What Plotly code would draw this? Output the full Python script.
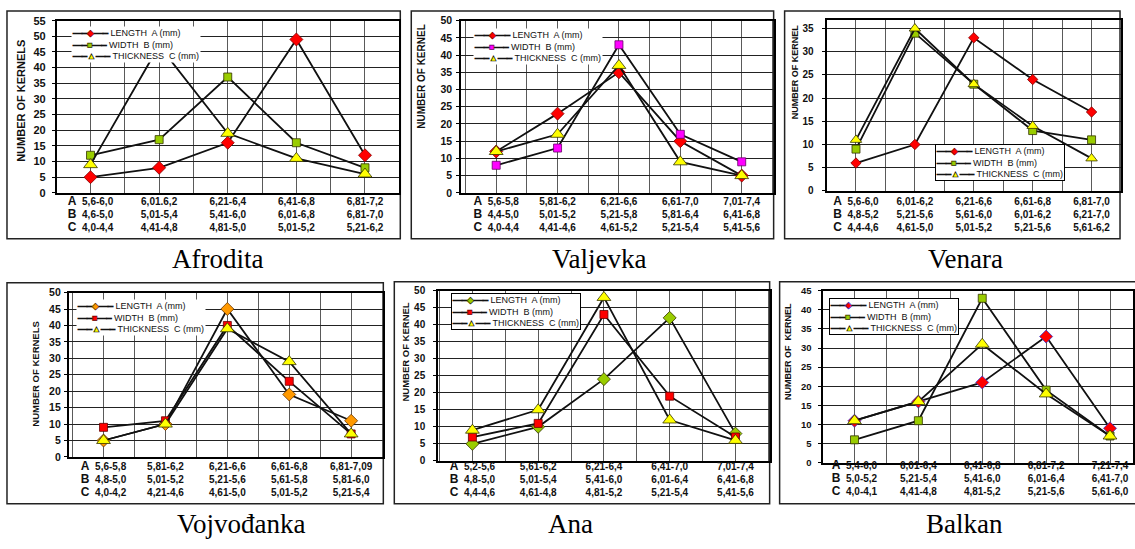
import plotly.graph_objects as go

W, H = 1135, 549

# ---------------- data ----------------
class_index = [0, 1, 2, 3, 4]
series_names = ["LENGTH  A (mm)", "WIDTH  B (mm)", "THICKNESS  C (mm)"]
row_letters = ["A", "B", "C"]
panel_titles = ["Afrodita", "Valjevka", "Venara", "Vojvođanka", "Ana", "Balkan"]

afrodita_length = [5, 8, 16, 49, 12]
afrodita_width = [12, 17, 37, 16, 8]
afrodita_thickness = [9, 47, 19, 11, 6]
afrodita_A = ["5,6-6,0", "6,01.6,2", "6,21-6,4", "6,41-6,8", "6,81-7,2"]
afrodita_B = ["4,6-5,0", "5,01-5,4", "5,41-6,0", "6,01-6,8", "6,81-7,0"]
afrodita_C = ["4,0-4,4", "4,41-4,8", "4,81-5,0", "5,01-5,2", "5,21-6,2"]

valjevka_length = [12, 23, 35, 15, 5]
valjevka_width = [8, 13, 43, 17, 9]
valjevka_thickness = [12, 17, 37, 9, 5]
valjevka_A = ["5,6-5,8", "5,81-6,2", "6,21-6,6", "6,61-7,0", "7,01-7,4"]
valjevka_B = ["4,4-5,0", "5,01-5,2", "5,21-5,8", "5,81-6,4", "6,41-6,8"]
valjevka_C = ["4,0-4,4", "4,41-4,6", "4,61-5,2", "5,21-5,4", "5,41-5,6"]

venara_length = [6, 10, 33, 24, 17]
venara_width = [9, 34, 23, 13, 11]
venara_thickness = [11, 35, 23, 14, 7]
venara_A = ["5,6-6,0", "6,01-6,2", "6,21-6,6", "6,61-6,8", "6,81-7,0"]
venara_B = ["4,8-5,2", "5,21-5,6", "5,61-6,0", "6,01-6,2", "6,21-7,0"]
venara_C = ["4,4-4,6", "4,61-5,0", "5,01-5,2", "5,21-5,6", "5,61-6,2"]

vojvodjanka_length = [5, 10, 45, 19, 11]
vojvodjanka_width = [9, 11, 40, 23, 7]
vojvodjanka_thickness = [5, 10, 39, 29, 7]
vojvodjanka_A = ["5,6-5,8", "5,81-6,2", "6,21-6,6", "6,61-6,8", "6,81-7,09"]
vojvodjanka_B = ["4,8-5,0", "5,01-5,2", "5,21-5,6", "5,61-5,8", "5,81-6,0"]
vojvodjanka_C = ["4,0-4,2", "4,21-4,6", "4,61-5,0", "5,01-5,2", "5,21-5,4"]

ana_length = [5, 10, 24, 42, 8]
ana_width = [7, 11, 43, 19, 7]
ana_thickness = [9, 15, 48, 12, 6]
ana_A = ["5,2-5,6", "5,61-6,2", "6,21-6,4", "6,41-7,0", "7,01-7,4"]
ana_B = ["4,8-5,0", "5,01-5,4", "5,41-6,0", "6,01-6,4", "6,41-6,8"]
ana_C = ["4,4-4,6", "4,61-4,8", "4,81-5,2", "5,21-5,4", "5,41-5,6"]

balkan_length = [11, 16, 21, 33, 9]
balkan_width = [6, 11, 43, 19, 7]
balkan_thickness = [11, 16, 31, 18, 7]
balkan_A = ["5,4-6,0", "6,01-6,4", "6,41-6,8", "6,81-7,2", "7,21-7,4"]
balkan_B = ["5,0-5,2", "5,21-5,4", "5,41-6,0", "6,01-6,4", "6,41-7,0"]
balkan_C = ["4,0-4,1", "4,41-4,8", "4,81-5,2", "5,21-5,6", "5,61-6,0"]

y_titles = ["NUMBER OF KERNELS", "NUMBER OF KERNEL", "NUMBER OF KERNEL",
            "NUMBER OF KERNELS", "NUMBER OF KERNEL", "NUMBER OF  KERNEL"]

# ---------------- styling / layout ----------------
SANS = "Liberation Sans, Arial, sans-serif"
SERIF = "Liberation Serif, Times New Roman, serif"
GREEN = "#99CC00"
YELLOW = "#FFFF00"
RED = "#FF0000"

panels = [
    dict(L=afrodita_length, Wd=afrodita_width, T=afrodita_thickness,
         A=afrodita_A, B=afrodita_B, C=afrodita_C,
         px=(57, 400), py=(15, 191), xr=(-0.49, 4.5), ymax=55,
         frame=(7, 5, 401, 238), title=(218, 259),
         ytitle=(21, 97, 11), ylabpad=4, ytick=11, xpad=-2,
         lcol=(RED, "#800000", 10), wcol=(GREEN, "#333300", 8),
         legend=dict(x=71, y=20, anchor="top", border=False)),
    dict(L=valjevka_length, Wd=valjevka_width, T=valjevka_thickness,
         A=valjevka_A, B=valjevka_B, C=valjevka_C,
         px=(462, 775), py=(15, 191), xr=(-0.57, 4.52), ymax=50,
         frame=(412, 5, 775, 238), title=(600, 259),
         ytitle=(422, 72, 10), ylabpad=2, ytick=10.5, xpad=-2,
         lcol=(RED, "#800000", 10), wcol=("#FF00FF", "#660066", 8),
         legend=dict(x=474, y=23, anchor="top", border=False)),
    dict(L=venara_length, Wd=venara_width, T=venara_thickness,
         A=venara_A, B=venara_B, C=venara_C,
         px=(828, 1123), py=(14, 189), xr=(-0.5, 4.5), ymax=36.9,
         frame=(786, 5, 1122, 238), title=(967, 259),
         ytitle=(796, 67, 9), ylabpad=6, ytick=10, xpad=0,
         lcol=(RED, "#800000", 8), wcol=(GREEN, "#333300", 8),
         legend=dict(x=937, y=179, anchor="bottom", border=True)),
    dict(L=vojvodjanka_length, Wd=vojvodjanka_width, T=vojvodjanka_thickness,
         A=vojvodjanka_A, B=vojvodjanka_B, C=vojvodjanka_C,
         px=(69, 384), py=(293, 461), xr=(-0.56, 4.52), ymax=50,
         frame=(7, 283, 384, 509), title=(242, 530),
         ytitle=(36, 376, 9.5), ylabpad=1, ytick=10.5, xpad=-1,
         lcol=("#FF9900", "#663300", 10), wcol=(RED, "#660000", 8),
         legend=dict(x=76, y=300, anchor="top", border=False)),
    dict(L=ana_length, Wd=ana_width, T=ana_thickness,
         A=ana_A, B=ana_B, C=ana_C,
         px=(439, 771), py=(291, 465), xr=(-0.52, 4.52), ymax=50,
         frame=(395, 282, 771, 509), title=(572, 530),
         ytitle=(406, 354, 9.5), ylabpad=6, ytick=10, xpad=-5,
         lcol=(GREEN, "#333300", 10), wcol=(RED, "#660000", 8),
         legend=dict(x=452, y=293, anchor="top", border=True)),
    dict(L=balkan_length, Wd=balkan_width, T=balkan_thickness,
         A=balkan_A, B=balkan_B, C=balkan_C,
         px=(824, 1135), py=(291, 467), xr=(-0.5, 4.36), ymax=45,
         frame=(781, 282, 1140, 509), title=(966, 530),
         ytitle=(790, 353, 9), ylabpad=4, ytick=9.5, xpad=-8,
         lcol=(RED, "#3333CC", 10), wcol=(GREEN, "#333300", 8),
         legend=dict(x=830, y=299, anchor="top", border=True)),
]

fig = go.Figure()
shapes = []
annotations = []
layout_extra = {}

half_ticks = [i * 0.5 for i in range(-1, 10)]
NB = "\u00a0"


def legend_row(fill, outline, glyph, name):
    dash = '<span style="stroke:#111;stroke-width:1px">—–</span>'
    mark = (f'<span style="fill:{fill};stroke:{outline};stroke-width:0.7px">'
            f'{glyph}</span>')
    return f"{dash}{mark}{dash}{NB}{name}"


for i, p in enumerate(panels):
    k = i + 1
    xa = "x" if k == 1 else f"x{k}"
    ya = "y" if k == 1 else f"y{k}"
    lc, lo, ls = p["lcol"]
    wc, wo, ws = p["wcol"]
    specs = [
        (p["L"], series_names[0], "diamond", lc, lo, ls),
        (p["Wd"], series_names[1], "square", wc, wo, ws),
        (p["T"], series_names[2], "triangle-up", YELLOW, "#333300", ls + 2),
    ]
    for vals, name, sym, col, ocol, size in specs:
        fig.add_trace(go.Scatter(
            x=class_index, y=vals, name=name, mode="lines+markers",
            xaxis=xa, yaxis=ya, showlegend=False,
            line=dict(color="#111111", width=1.8),
            marker=dict(symbol=sym, color=col, size=size,
                        line=dict(color=ocol, width=0.8)),
            hoverinfo="x+y+name"))

    ticktext = []
    for v in half_ticks:
        if v == int(v) and 0 <= v <= 4:
            j = int(v)
            rows = [p["A"][j], p["B"][j], p["C"][j]]
            if j == 0:
                rows = [f'<span style="font-size:12px">{L}</span>{NB}{NB}{r}'
                        for L, r in zip(row_letters, rows)]
            ticktext.append("<br>".join(rows))
        else:
            ticktext.append("")

    x0, x1 = p["px"]
    yt, yb = p["py"]
    layout_extra[f"xaxis{'' if k == 1 else k}"] = dict(
        domain=[x0 / W, min(x1 / W, 1.0)], anchor=ya,
        range=list(p["xr"]), tickmode="array", tickvals=half_ticks,
        ticktext=ticktext, ticks="", showgrid=True, gridcolor="#5a5a5a",
        gridwidth=1, showline=True, linecolor="#000", linewidth=2,
        mirror=True, zeroline=False, ticklabelstandoff=p["xpad"],
        tickfont=dict(family=SANS, size=10, color="#111", weight="bold"))
    layout_extra[f"yaxis{'' if k == 1 else k}"] = dict(
        domain=[1 - yb / H, 1 - yt / H], anchor=xa,
        range=[0, p["ymax"]], dtick=5, tick0=0, ticks="outside",
        ticklen=3, tickcolor="#000", showgrid=True, gridcolor="#222",
        gridwidth=1, showline=True, linecolor="#000", linewidth=2,
        mirror=True, zeroline=False, ticklabelstandoff=p["ylabpad"],
        tickfont=dict(family=SANS, size=p["ytick"], color="#111", weight="bold"))

    # legend box (one per panel)
    lgd = p["legend"]
    leg_rows = [
        legend_row(lc, lo, "◆", series_names[0]),
        legend_row(wc, wo, "■", series_names[1]),
        legend_row(YELLOW, "#111", "▲", series_names[2]),
    ]
    annotations.append(dict(
        text="<br>".join(leg_rows), x=lgd["x"] / W, y=1 - lgd["y"] / H,
        xref="paper", yref="paper", showarrow=False, align="left",
        xanchor="left", yanchor=lgd["anchor"], bgcolor="#FFFFFF",
        bordercolor="#000" if lgd["border"] else "rgba(0,0,0,0)",
        borderwidth=1, borderpad=1,
        font=dict(family=SANS, size=9, color="#111")))

    fx0, fy0, fx1, fy1 = p["frame"]
    shapes.append(dict(type="rect", xref="paper", yref="paper",
                       x0=fx0 / W, x1=fx1 / W, y0=1 - fy1 / H, y1=1 - fy0 / H,
                       line=dict(color="#222", width=1.5), layer="below"))

    tx, ty = p["title"]
    annotations.append(dict(text=panel_titles[i], x=tx / W, y=1 - ty / H,
                            xref="paper", yref="paper", showarrow=False,
                            xanchor="center", yanchor="middle",
                            font=dict(family=SERIF, size=27, color="#000")))
    ux, uy, us = p["ytitle"]
    annotations.append(dict(text=y_titles[i], x=ux / W, y=1 - uy / H,
                            xref="paper", yref="paper", showarrow=False,
                            textangle=-90, xanchor="center", yanchor="middle",
                            font=dict(family=SANS, size=us, color="#111",
                                      weight="bold")))

fig.update_layout(
    width=W, height=H, margin=dict(l=0, r=0, t=0, b=0),
    paper_bgcolor="#FFFFFF", plot_bgcolor="#FFFFFF",
    shapes=shapes, annotations=annotations, showlegend=False,
    **layout_extra)

fig.write_html("out.html", config={"displayModeBar": False},
               post_script="document.body.style.margin='0';"
                           "document.body.style.overflow='hidden';")
